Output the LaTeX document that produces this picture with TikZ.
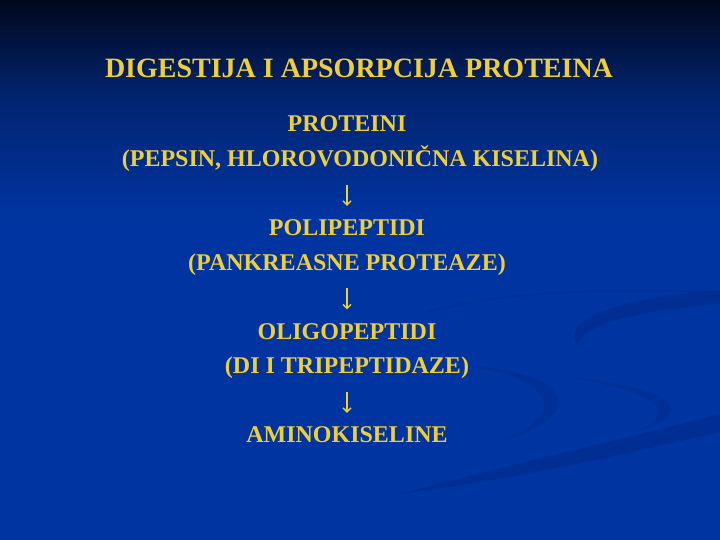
\documentclass[tikz,border=0pt]{standalone}
\usepackage{fontspec}
\setmainfont{Liberation Serif}
\usetikzlibrary{arrows.meta}
\definecolor{slidetxt}{RGB}{240,206,56}
\definecolor{bgtop}{RGB}{0,8,28}
\definecolor{bgmid}{RGB}{2,36,112}
\definecolor{bgblue}{RGB}{0,52,160}
\definecolor{swoosh}{RGB}{0,40,132}
\pgfdeclareverticalshading{slidebg}{100bp}{color(0bp)=(bgblue); color(55bp)=(bgblue); color(66bp)=(bgmid); color(75bp)=(bgtop); color(100bp)=(bgtop)}

\begin{document}
\begin{tikzpicture}[x=1pt, y=-1pt, >={Straight Barb[length=4pt,width=8pt]},
    txt/.style={text=slidetxt, font=\fontsize{24}{28}\selectfont\bfseries, anchor=base, inner sep=0pt}]
      \useasboundingbox (0,0) rectangle (720,540);
      \shade[shading=slidebg] (0,0) rectangle (720,540);
      % background swooshes
      \draw[swoosh, line width=2pt, opacity=.25] (427,312) .. controls (500,292) and (600,288) .. (720,292);
      \fill[swoosh, opacity=.45] (720,290) .. controls (640,296) and (555,315) .. (578,346) .. controls (578,325) and (640,310) .. (720,304) -- cycle;
      \fill[swoosh, opacity=.35] (470,366) .. controls (560,372) and (600,410) .. (500,442) .. controls (572,412) and (552,380) .. (470,366) -- cycle;
      \fill[swoosh, opacity=.35] (575,378) .. controls (660,385) and (705,410) .. (640,430) .. controls (682,410) and (650,392) .. (575,378) -- cycle;
      \fill[swoosh, opacity=.45] (400,494) .. controls (520,462) and (620,440) .. (720,414) -- (720,432) .. controls (620,455) and (520,478) .. (400,494) -- cycle;
      % text
      \node[txt, font=\fontsize{28}{32}\selectfont\bfseries] at (359,77.5) (T) {DIGESTIJA I APSORPCIJA PROTEINA};
      \node[txt] at (347,132) (P) {PROTEINI};
      \node[txt] at (360,166.5) (PE) {(PEPSIN, HLOROVODONIČNA KISELINA)};
      \node[txt] at (347,235.5) (PP) {POLIPEPTIDI};
      \node[txt] at (347,270) (PR) {(PANKREASNE PROTEAZE)};
      \node[txt] at (347,339) (OP) {OLIGOPEPTIDI};
      \node[txt] at (347,373.5) (TP) {(DI I TRIPEPTIDAZE)};
      \node[txt] at (347,442.5) (AK) {AMINOKISELINE};
      % arrows
      \draw[->, slidetxt, line width=1.5, shorten <=13pt, shorten >=13.5pt] (PE.south -| PP.north) -- (PP.north);
      \draw[->, slidetxt, line width=1.5, shorten <=13pt, shorten >=13.5pt] (PR.south) -- (OP.north);
      \draw[->, slidetxt, line width=1.5, shorten <=13pt, shorten >=13.5pt] (TP.south) -- (AK.north);
    \end{tikzpicture}
\end{document}
